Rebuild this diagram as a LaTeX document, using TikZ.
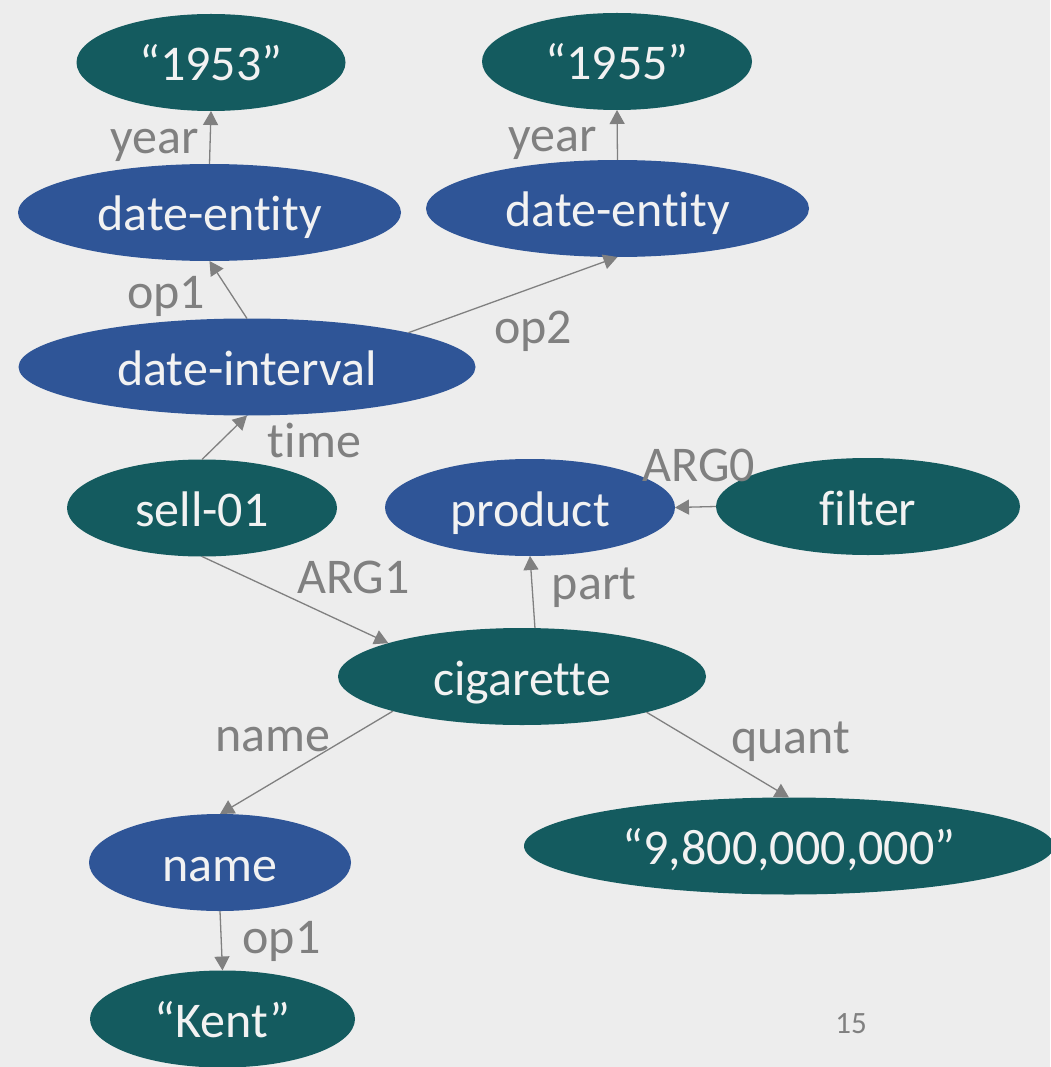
\documentclass[tikz,border=0pt]{standalone}
\usepackage{fontspec}
\setmainfont{Carlito}[Ligatures={NoCommon}]
\usetikzlibrary{arrows.meta,shapes.geometric}
\definecolor{teal1}{HTML}{145B5F}
\definecolor{blue1}{HTML}{2F5597}
\definecolor{bg}{HTML}{EDEDED}
\definecolor{edgegray}{HTML}{808080}
\definecolor{txtw}{HTML}{F2F2F2}
\tikzset{
  amr/.style={ellipse, inner sep=0pt, outer sep=0pt, text=txtw,
    font=\fontsize{50}{56}\selectfont, text height=37pt, text depth=0pt,
    minimum height=97pt},
  tnode/.style={amr, fill=teal1},
  bnode/.style={amr, fill=blue1},
  rel/.style={-{Triangle[length=14pt,width=15pt]}, draw=edgegray, line width=1.3pt},
  lbl/.style={anchor=base, inner sep=0pt, text=edgegray, font=\fontsize{50}{56}\selectfont}
}
\begin{document}
\begin{tikzpicture}[x=1pt,y=-1pt]
\fill[bg] (0,0) rectangle (1050,1067);
\useasboundingbox (0,0) rectangle (1050,1067);

\node[tnode, minimum width=269pt] (y53) at (211,62.5) {“1953”};
\node[bnode, minimum width=383pt] (de1) at (209.5,212.5) {date-entity};
\node[bnode, minimum width=457pt] (dint) at (247,367) {date-interval};
\node[tnode, minimum width=270pt] (y55) at (617,61.5) {“1955”};
\node[bnode, minimum width=383pt] (de2) at (617.5,208.5) {date-entity};
\node[tnode, minimum width=270pt] (sell) at (202,508) {sell-01};
\node[bnode, minimum width=290pt] (prod) at (530,507.5) {product};
\node[tnode, minimum width=304pt] (filt) at (868,506.5) {filter};
\node[tnode, minimum width=368pt] (cig) at (522,676.5) {cigarette};
\node[bnode, minimum width=262pt] (nm) at (220,862.5) {name};
\node[tnode, minimum width=265pt] (kent) at (222.5,1019) {“Kent”};
\node[tnode, minimum width=530pt] (qty) at (789,846) {“9,800,000,000”};

\draw[rel] (de1.north) -- (y53.south);
\draw[rel] (dint.north) -- (de1.south);
\draw[rel] (dint.12) -- (de2.south);
\draw[rel] (de2.north) -- (y55.south);
\draw[rel] (sell.north) -- (dint.south);
\draw[rel] (sell.south) -- (cig.166);
\draw[rel] (filt.west) -- (prod.east);
\draw[rel] (cig.75) -- (prod.south);
\draw[rel] (cig.195) -- (nm.north);
\draw[rel] (cig.344) -- (qty.north);
\draw[rel] (nm.south) -- (kent.north);

\node[lbl] (l1) at (154.5,154) {year};
\node[lbl] (l2) at (166,308) {op1};
\node[lbl] (l3) at (553,152) {year};
\node[lbl] (l4) at (533,343) {op2};
\node[lbl] (l5) at (314.5,457) {time};
\node[lbl] (l6) at (353.5,593) {ARG1};
\node[lbl] (l7) at (699,481) {ARG0};
\node[lbl] (l8) at (594,599) {part};
\node[lbl] (l9) at (273,751) {name};
\node[lbl] (l10) at (791,753) {quant};
\node[lbl] (l11) at (281.5,953) {op1};
\node[lbl, font=\fontsize{31}{36}\selectfont] (pg) at (851,1033) {15};
\end{tikzpicture}
\end{document}
